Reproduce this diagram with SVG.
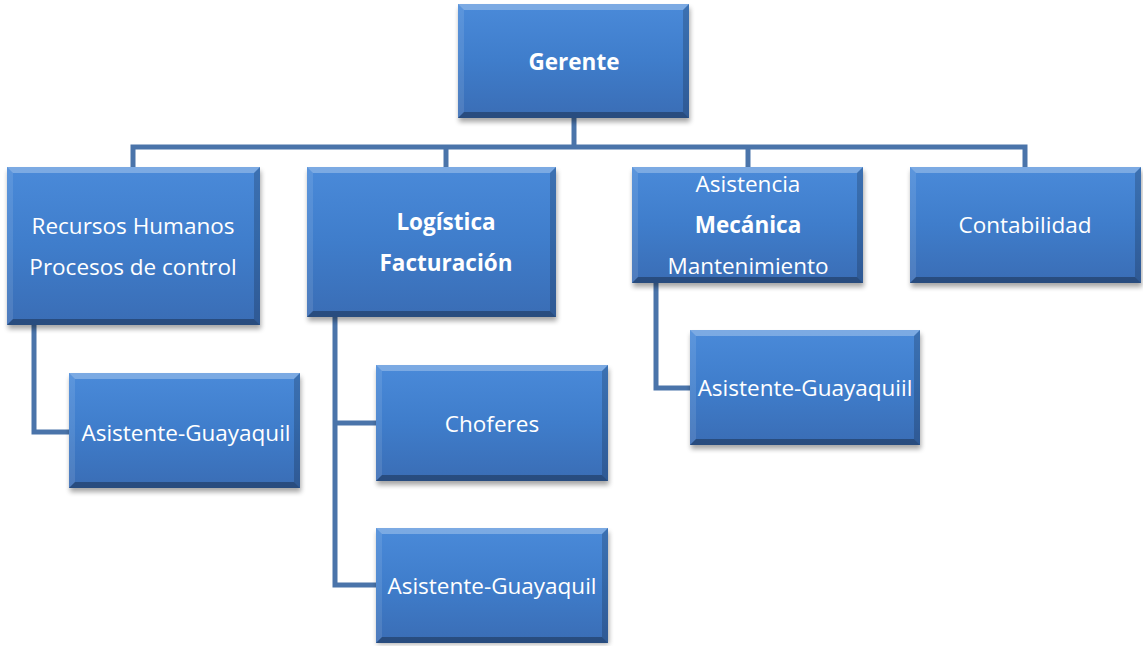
<svg xmlns="http://www.w3.org/2000/svg" width="1143" height="646" viewBox="0 0 1143 646">
<defs>
<linearGradient id="g" x1="0" y1="0" x2="0" y2="1">
<stop offset="0" stop-color="#4a8ad9"/>
<stop offset="0.5" stop-color="#3f7dcb"/>
<stop offset="1" stop-color="#3a6db5"/>
</linearGradient>
<filter id="sh" x="-10%" y="-10%" width="120%" height="130%">
<feGaussianBlur stdDeviation="2.5"/>
</filter>
</defs>
<style>
.sh{fill:#000;opacity:0.35;filter:url(#sh)}
.face{fill:url(#g)}
.bt{fill:#fff;opacity:0.28}
.bl{fill:#fff;opacity:0.1}
.br{fill:#000;opacity:0.18}
.bb{fill:#000;opacity:0.3}
.t{font-family:"Open Sans","Liberation Sans",sans-serif;font-size:22.5px;fill:#fff;text-anchor:middle}
.b{font-weight:bold}
.c{fill:none;stroke:#4a74aa;stroke-width:5}
</style>
<g id="connectors">
<path class="c" d="M574,118 V147"/>
<path class="c" d="M133,167 V147 H1025 V167"/>
<path class="c" d="M446,147 V167"/>
<path class="c" d="M748,147 V167"/>
<path class="c" d="M34,325 V432 H69"/>
<path class="c" d="M335,317 V585 H376"/>
<path class="c" d="M335,423 H376"/>
<path class="c" d="M656,283 V388 H690"/>
</g>
<g id="gerente">
<rect class="sh" x="459" y="8" width="231" height="114"/>
<rect class="face" x="458" y="4" width="231" height="114"/>
<polygon class="bt" points="458,4 689,4 683,10 464,10"/>
<polygon class="bl" points="458,4 464,10 464,112 458,118"/>
<polygon class="br" points="689,4 689,118 683,112 683,10"/>
<polygon class="bb" points="458,118 689,118 683,112 464,112"/>
<text class="t b" x="574" y="70">Gerente</text>
</g>
<g id="rrhh">
<rect class="sh" x="8" y="171" width="253" height="158"/>
<rect class="face" x="7" y="167" width="253" height="158"/>
<polygon class="bt" points="7,167 260,167 254,173 13,173"/>
<polygon class="bl" points="7,167 13,173 13,319 7,325"/>
<polygon class="br" points="260,167 260,325 254,319 254,173"/>
<polygon class="bb" points="7,325 260,325 254,319 13,319"/>
<text class="t" x="133" y="234">Recursos Humanos</text>
<text class="t" x="133" y="275">Procesos de control</text>
</g>
<g id="logistica">
<rect class="sh" x="308" y="171" width="249" height="150"/>
<rect class="face" x="307" y="167" width="249" height="150"/>
<polygon class="bt" points="307,167 556,167 550,173 313,173"/>
<polygon class="bl" points="307,167 313,173 313,311 307,317"/>
<polygon class="br" points="556,167 556,317 550,311 550,173"/>
<polygon class="bb" points="307,317 556,317 550,311 313,311"/>
<text class="t b" x="446" y="230">Logística</text>
<text class="t b" x="446" y="271">Facturación</text>
</g>
<g id="mecanica">
<rect class="sh" x="633" y="171" width="231" height="116"/>
<rect class="face" x="632" y="167" width="231" height="116"/>
<polygon class="bt" points="632,167 863,167 857,173 638,173"/>
<polygon class="bl" points="632,167 638,173 638,277 632,283"/>
<polygon class="br" points="863,167 863,283 857,277 857,173"/>
<polygon class="bb" points="632,283 863,283 857,277 638,277"/>
<text class="t" x="748" y="192">Asistencia</text>
<text class="t b" x="748" y="233">Mecánica</text>
<text class="t" x="748" y="274">Mantenimiento</text>
</g>
<g id="contabilidad">
<rect class="sh" x="911" y="171" width="231" height="116"/>
<rect class="face" x="910" y="167" width="231" height="116"/>
<polygon class="bt" points="910,167 1141,167 1135,173 916,173"/>
<polygon class="bl" points="910,167 916,173 916,277 910,283"/>
<polygon class="br" points="1141,167 1141,283 1135,277 1135,173"/>
<polygon class="bb" points="910,283 1141,283 1135,277 916,277"/>
<text class="t" x="1025" y="233">Contabilidad</text>
</g>
<g id="asistente-rrhh">
<rect class="sh" x="70" y="377" width="231" height="115"/>
<rect class="face" x="69" y="373" width="231" height="115"/>
<polygon class="bt" points="69,373 300,373 294,379 75,379"/>
<polygon class="bl" points="69,373 75,379 75,482 69,488"/>
<polygon class="br" points="300,373 300,488 294,482 294,379"/>
<polygon class="bb" points="69,488 300,488 294,482 75,482"/>
<text class="t" x="186" y="441">Asistente-Guayaquil</text>
</g>
<g id="choferes">
<rect class="sh" x="377" y="369" width="232" height="116"/>
<rect class="face" x="376" y="365" width="232" height="116"/>
<polygon class="bt" points="376,365 608,365 602,371 382,371"/>
<polygon class="bl" points="376,365 382,371 382,475 376,481"/>
<polygon class="br" points="608,365 608,481 602,475 602,371"/>
<polygon class="bb" points="376,481 608,481 602,475 382,475"/>
<text class="t" x="492" y="432">Choferes</text>
</g>
<g id="asistente-logistica">
<rect class="sh" x="377" y="532" width="232" height="112"/>
<rect class="face" x="376" y="528" width="232" height="115"/>
<polygon class="bt" points="376,528 608,528 602,534 382,534"/>
<polygon class="bl" points="376,528 382,534 382,637 376,643"/>
<polygon class="br" points="608,528 608,643 602,637 602,534"/>
<polygon class="bb" points="376,643 608,643 602,637 382,637"/>
<text class="t" x="492" y="594">Asistente-Guayaquil</text>
</g>
<g id="asistente-mecanica">
<rect class="sh" x="691" y="334" width="230" height="115"/>
<rect class="face" x="690" y="330" width="230" height="115"/>
<polygon class="bt" points="690,330 920,330 914,336 696,336"/>
<polygon class="bl" points="690,330 696,336 696,439 690,445"/>
<polygon class="br" points="920,330 920,445 914,439 914,336"/>
<polygon class="bb" points="690,445 920,445 914,439 696,439"/>
<text class="t" x="805" y="396">Asistente-Guayaquiil</text>
</g>
</svg>
